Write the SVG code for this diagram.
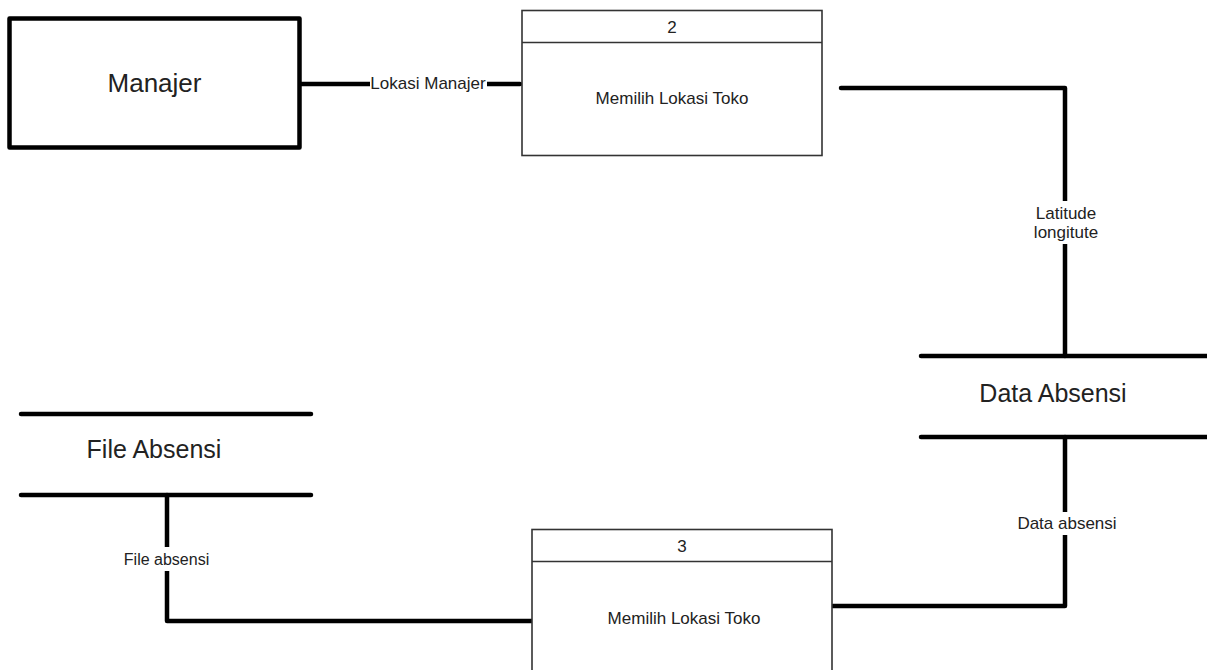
<svg xmlns="http://www.w3.org/2000/svg" width="1207" height="670" viewBox="0 0 1207 670">
<style>
.bg{fill:#ffffff}
.thick{fill:none;stroke:#000;stroke-width:4.5;stroke-linecap:round;stroke-linejoin:round}
.proc{fill:#fff;stroke:#333;stroke-width:1.6}
.ext{fill:#fff;stroke:#000;stroke-width:4.5;stroke-linejoin:round}
.big{font-family:"Liberation Sans",Arial,sans-serif;font-size:25px;fill:#222;text-anchor:middle}
.mid{font-family:"Liberation Sans",Arial,sans-serif;font-size:17px;fill:#222;text-anchor:middle}
.lab{font-family:"Liberation Sans",Arial,sans-serif;font-size:17px;fill:#222;text-anchor:middle}
</style>
<rect class="bg" x="0" y="0" width="1207" height="670"/>
<g id="connectors">
  <path class="thick" d="M301 84 H520"/>
  <path class="thick" d="M841 88 H1065 V356"/>
  <path class="thick" d="M1065 437 V606 H833"/>
  <path class="thick" d="M167 495 V621 H532"/>
  <rect class="bg" x="370" y="72" width="117" height="22"/>
  <text class="lab" x="428" y="89">Lokasi Manajer</text>
  <rect class="bg" x="1030" y="201" width="72" height="43"/>
  <text class="lab" x="1066" y="219">Latitude</text>
  <text class="lab" x="1066" y="238">longitute</text>
  <rect class="bg" x="1017" y="512" width="100" height="23"/>
  <text class="lab" x="1067" y="529">Data absensi</text>
  <rect class="bg" x="122" y="547" width="89" height="24"/>
  <text class="lab" x="166.5" y="565" style="font-size:16px">File absensi</text>
</g>
<g id="manajer">
  <rect class="ext" x="9.5" y="18.5" width="290" height="129"/>
  <text class="big" x="154.5" y="92" style="font-size:26px">Manajer</text>
</g>
<g id="proses2">
  <rect class="proc" x="522" y="10.5" width="300" height="145"/>
  <line class="proc" x1="522" y1="42.5" x2="822" y2="42.5"/>
  <text class="mid" x="672" y="33">2</text>
  <text class="mid" x="672" y="104">Memilih Lokasi Toko</text>
</g>
<g id="proses3">
  <rect class="proc" x="532" y="529.5" width="300" height="170"/>
  <line class="proc" x1="532" y1="561.5" x2="832" y2="561.5"/>
  <text class="mid" x="682" y="552">3</text>
  <text class="mid" x="684" y="624">Memilih Lokasi Toko</text>
</g>
<g id="data-absensi">
  <line class="thick" x1="921" y1="356" x2="1210" y2="356"/>
  <line class="thick" x1="921" y1="437" x2="1210" y2="437"/>
  <text class="big" x="1053" y="402">Data Absensi</text>
</g>
<g id="file-absensi">
  <line class="thick" x1="21" y1="414" x2="311" y2="414"/>
  <line class="thick" x1="21" y1="495" x2="311" y2="495"/>
  <text class="big" x="154" y="458">File Absensi</text>
</g>
</svg>
